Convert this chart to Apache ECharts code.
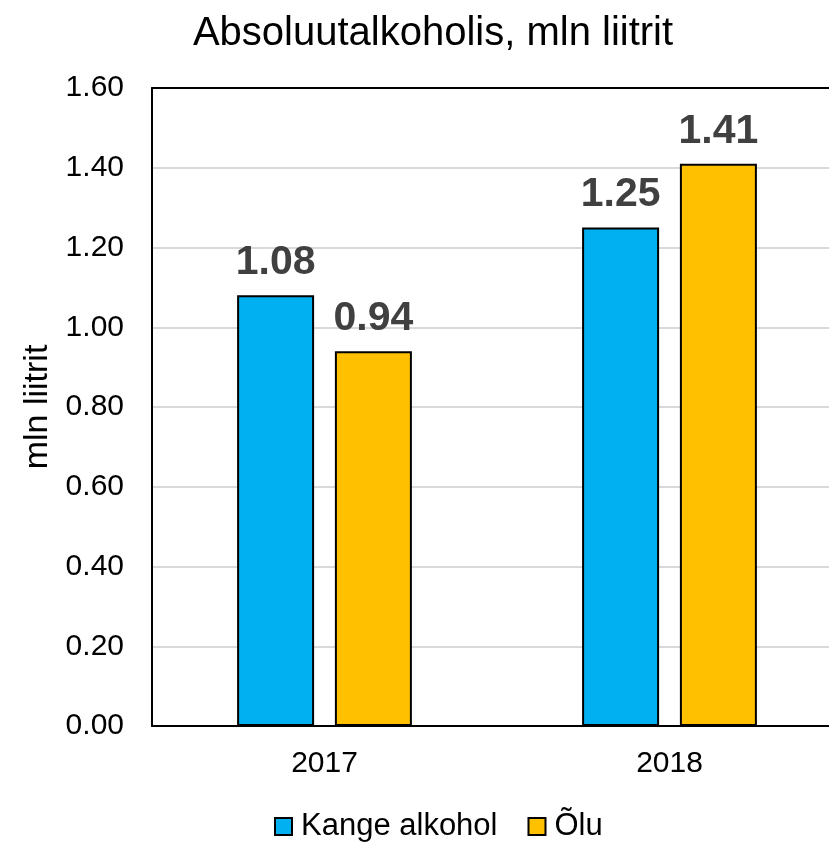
<!DOCTYPE html>
<html><head><meta charset="utf-8">
<script src="https://cdn.jsdelivr.net/npm/echarts@6/dist/echarts.min.js"></script>
<style>html,body{margin:0;padding:0;background:#fff;overflow:hidden}#c{width:842px;height:843px}</style>
</head><body><div id="c"></div>
<script>
const categories = ['2017', '2018'];
const kange = [1.08, 1.25];
const olu = [0.94, 1.41];
const yTicks = [0, 0.2, 0.4, 0.6, 0.8, 1.0, 1.2, 1.4, 1.6];
const F = '"Liberation Sans", Arial, sans-serif';
const chart = echarts.init(document.getElementById('c'));
const lbl = {show: true, position: 'top', distance: 12, fontFamily: F, fontSize: 41, fontWeight: 'bold', color: '#404040', formatter: p => p.value.toFixed(2)};
chart.setOption({
  animation: false,
  title: {text: 'Absoluutalkoholis, mln liitrit', left: 428, top: 9, textAlign: 'center', textStyle: {fontFamily: F, fontSize: 40, fontWeight: 'normal', color: '#000'}},
  grid: {left: 152, right: 0, top: 88, bottom: 117},
  legend: {top: 806, left: 269, icon: 'rect', itemWidth: 17, itemHeight: 17, itemGap: 30, textStyle: {fontFamily: F, fontSize: 31, color: '#000', padding: [0, 0, 0, 4]}, data: ['Kange alkohol', 'Õlu']},
  xAxis: [
    {type: 'category', data: categories, axisLine: {lineStyle: {color: '#000', width: 2}}, axisTick: {show: false}, axisLabel: {fontFamily: F, fontSize: 30, color: '#000', margin: 23}},
    {type: 'category', position: 'top', data: categories, axisLine: {show: true, lineStyle: {color: '#000', width: 2}}, axisTick: {show: false}, axisLabel: {show: false}, splitLine: {show: false}}
  ],
  yAxis: {type: 'value', min: yTicks[0], max: yTicks[yTicks.length-1], interval: 0.2, name: 'mln liitrit', nameLocation: 'middle', nameGap: 96, nameTextStyle: {fontFamily: F, fontSize: 34, color: '#000'},
    axisLine: {show: true, lineStyle: {color: '#000', width: 2}}, axisTick: {show: false},
    axisLabel: {fontFamily: F, fontSize: 30, color: '#000', margin: 28, formatter: v => v.toFixed(2)},
    splitLine: {lineStyle: {color: '#d9d9d9', width: 2}}},
  series: [
    {name: 'Kange alkohol', type: 'bar', data: kange, barWidth: 77, barGap: '27%', itemStyle: {color: '#00B0F0', borderColor: '#000', borderWidth: 2}, label: lbl},
    {name: 'Õlu', type: 'bar', data: olu, barWidth: 77, itemStyle: {color: '#FFC000', borderColor: '#000', borderWidth: 2}, label: lbl}
  ]
});
</script></body></html>
